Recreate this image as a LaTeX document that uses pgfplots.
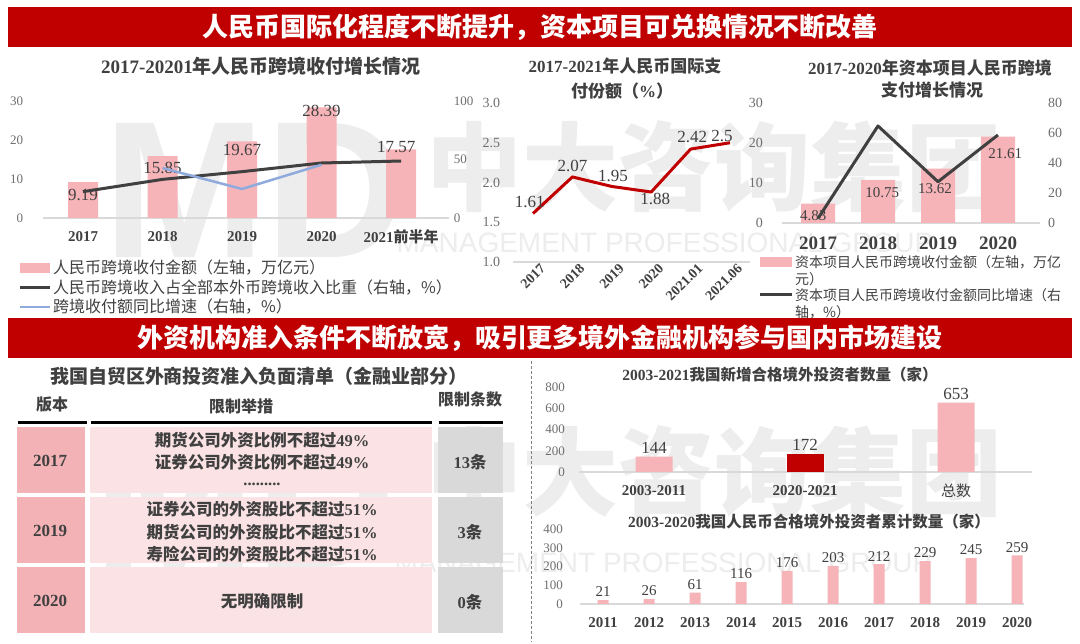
\documentclass[border=0pt]{standalone}
\usepackage{pgfplots}
\pgfplotsset{compat=1.18}
\usepackage{fontspec}
\setmainfont{Liberation Serif}
\newfontfamily\cjk{Noto Sans CJK SC}
\newfontfamily\sans{Liberation Sans}
\newcommand\fs[1]{\fontsize{#1}{#1}\selectfont}
\definecolor{banner}{RGB}{192,0,0}
\definecolor{pinkbar}{RGB}{246,180,184}
\definecolor{darkbar}{RGB}{192,0,0}
\definecolor{linegray}{RGB}{64,64,64}
\definecolor{lineblue}{RGB}{143,170,220}
\definecolor{linered}{RGB}{192,0,0}
\definecolor{txt}{RGB}{64,64,64}
\definecolor{tickc}{RGB}{110,110,110}
\definecolor{axgray}{RGB}{217,217,217}
\definecolor{wm}{RGB}{237,237,237}
\definecolor{tabA}{RGB}{243,178,181}
\definecolor{tabB}{RGB}{251,227,229}
\definecolor{tabC}{RGB}{217,217,217}

\pgfplotsset{
  panel/.style={
    scale only axis, anchor=south west, clip=false,
    axis x line*=bottom, axis y line*=left,
    y axis line style={draw=none},
    x axis line style={draw=axgray, line width=1.2pt},
    tick style={draw=none}, major tick length=0pt,
    /pgf/number format/assume math mode=true,
    ticklabel style={inner sep=0pt},
    yticklabel style={text=tickc},
    xticklabel style={text=txt},
  },
}

\begin{document}
\begin{tikzpicture}[x=1pt,y=1pt]
\path[use as bounding box] (0,0) rectangle (1080,644);
\fill[white] (0,0) rectangle (1080,644);

% ---------- watermark ----------
\node[font=\fs{195}\sans\bfseries, text=wm] at (255,644-190) {MD};
\node[font=\fs{96}\cjk\bfseries, text=wm] at (714,644-167) {中大咨询集团};
\node[font=\fs{28}\sans, text=wm] at (665,644-243) {MANAGEMENT PROFESSIONAL GROUP};
\node[font=\fs{195}\sans\bfseries, text=wm] at (245,644-500) {MD};
\node[font=\fs{96}\cjk\bfseries, text=wm] at (714,644-472) {中大咨询集团};
\node[font=\fs{28}\sans, text=wm] at (663,644-563) {MANAGEMENT PROFESSIONAL GROUP};

% ---------- banners ----------
\fill[banner] (8,644-7) rectangle (1072,644-47);
\node[font=\fs{26}\cjk\bfseries, text=white] at (540,644-27) {人民币国际化程度不断提升，资本项目可兑换情况不断改善};
\fill[banner] (8,644-318) rectangle (1072,644-358);
\node[font=\fs{26}\cjk\bfseries, text=white] at (540,644-338) {外资机构准入条件不断放宽，吸引更多境外金融机构参与国内市场建设};

% ---------- chart 1 ----------
\node[font=\fs{19}\bfseries, text=txt] at (261,644-66) {2017-20201{\cjk 年人民币跨境收付增长情况}};
\begin{axis}[panel, at={(43.25pt,426pt)}, width=405.5pt, height=117pt,
  xmin=-0.5, xmax=4.6, ymin=0, ymax=30, ytick={0,10,20,30},
  xtick={0,1,2,3,4}, xticklabels={2017,2018,2019,2020,{2021{\cjk 前半年}}},
  xticklabel style={font=\fs{15}\bfseries, anchor=center, yshift=-19pt},
  yticklabel style={font=\fs{13}, anchor=east, xshift=-20pt}]
\addplot[ybar, bar width=30pt, fill=pinkbar, draw=none] coordinates {(0,9.19)(1,15.85)(2,19.67)(3,28.39)(4,17.57)};
\node[font=\fs{17}, text=txt] at (axis cs:0,5.9) {9.19};
\node[font=\fs{17}, text=txt] at (axis cs:1,12.8) {15.85};
\node[font=\fs{17}, text=txt] at (axis cs:2,17.4) {19.67};
\node[font=\fs{17}, text=txt] at (axis cs:3,27.4) {28.39};
\node[font=\fs{17}, text=txt] at (axis cs:3.94,18.2) {17.57};
\end{axis}
\begin{axis}[panel, at={(43.25pt,426pt)}, width=405.5pt, height=117pt,
  xmin=-0.5, xmax=4.6, ymin=0, ymax=100, ytick={0,50,100},
  axis x line=none, axis y line*=right,
  yticklabel style={font=\fs{13}, anchor=west, xshift=5pt}]
\addplot[linegray, line width=3pt, line join=round, mark=none] coordinates {(0,22.5)(1,33)(2,39.6)(3,47)(4,48.7)};
\addplot[lineblue, line width=2.5pt, line join=round, mark=none] coordinates {(1,42.7)(2,24.8)(3,45.5)};
\end{axis}
\fill[pinkbar] (20,644-273) rectangle (50,644-263);
\node[anchor=west, font=\fs{16}\cjk, text=txt, inner sep=0pt] at (53,644-268) {人民币跨境收付金额（左轴，万亿元）};
\draw[linegray, line width=3pt] (20,644-288) -- (50,644-288);
\node[anchor=west, font=\fs{16}\cjk, text=txt, inner sep=0pt] at (53,644-288) {人民币跨境收入占全部本外币跨境收入比重（右轴，\%）};
\draw[lineblue, line width=2.5pt] (20,644-307) -- (50,644-307);
\node[anchor=west, font=\fs{16}\cjk, text=txt, inner sep=0pt] at (53,644-307) {跨境收付额同比增速（右轴，\%）};

% ---------- chart 2 ----------
\node[font=\fs{17}\bfseries, text=txt] at (625,644-66) {2017-2021{\cjk 年人民币国际支}};
\node[font=\fs{17}\bfseries, text=txt] at (622,644-91) {{\cjk 付份额（}\%{\cjk ）}};
\begin{axis}[panel, at={(513.3pt,382pt)}, width=236.4pt, height=159pt,
  xmin=-0.5, xmax=5.5, ymin=1, ymax=3, ytick={1,1.5,2,2.5,3},
  y tick label style={/pgf/number format/fixed, /pgf/number format/fixed zerofill, /pgf/number format/precision=1},
  xtick={0,1,2,3,4,5}, xticklabels={2017,2018,2019,2020,2021.01,2021.06},
  xticklabel style={font=\fs{14}\bfseries, rotate=45, anchor=east, xshift=4pt, yshift=-10pt},
  yticklabel style={font=\fs{14}, anchor=east, xshift=-13pt}]
\addplot[linered, line width=3pt, line join=round, mark=none] coordinates {(0,1.61)(1,2.07)(2,1.95)(3,1.88)(4,2.42)(5,2.5)};
\node[font=\fs{17}, text=txt] at (axis cs:-0.08,1.755) {1.61};
\node[font=\fs{17}, text=txt] at (axis cs:1.0,2.21) {2.07};
\node[font=\fs{17}, text=txt] at (axis cs:2.03,2.08) {1.95};
\node[font=\fs{17}, text=txt] at (axis cs:3.1,1.79) {1.88};
\node[font=\fs{17}, text=txt] at (axis cs:4.04,2.57) {2.42};
\node[font=\fs{17}, text=txt] at (axis cs:4.8,2.58) {2.5};
\end{axis}

% ---------- chart 3 ----------
\node[font=\fs{17}\bfseries, text=txt] at (930,644-68) {2017-2020{\cjk 年资本项目人民币跨境}};
\node[font=\fs{17}\bfseries, text=txt] at (932,644-90) {\cjk 支付增长情况};
\begin{axis}[panel, at={(782pt,421pt)}, width=258pt, height=120pt,
  xmin=-0.6, xmax=3.7, ymin=0, ymax=30, ytick={0,10,20,30},
  xtick={0,1,2,3}, xticklabels={2017,2018,2019,2020},
  xticklabel style={font=\fs{19}\bfseries, anchor=center, yshift=-20pt},
  yticklabel style={font=\fs{14}, anchor=east, xshift=-19pt}]
\addplot[ybar, bar width=34pt, fill=pinkbar, draw=none] coordinates {(0,4.83)(1,10.75)(2,13.62)(3,21.61)};
\node[font=\fs{15}, text=txt] at (axis cs:-0.08,1.75) {4.83};
\node[font=\fs{15}, text=txt] at (axis cs:1.07,7.5) {10.75};
\node[font=\fs{15}, text=txt] at (axis cs:1.95,8.5) {13.62};
\node[font=\fs{15}, text=txt] at (axis cs:3.12,17.25) {21.61};
\end{axis}
\begin{axis}[panel, at={(782pt,421pt)}, width=258pt, height=120pt,
  xmin=-0.6, xmax=3.7, ymin=0, ymax=80, ytick={0,20,40,60,80},
  axis x line=none, axis y line*=right,
  yticklabel style={font=\fs{14}, anchor=west, xshift=8pt}]
\addplot[linegray, line width=3pt, line join=round, mark=none] coordinates {(0,3)(1,64.7)(2,27.5)(3,58.7)};
\end{axis}
\fill[pinkbar] (760,644-267) rectangle (792,644-257);
\node[anchor=west, font=\fs{14}\cjk, text=txt, inner sep=0pt] at (795,644-262) {资本项目人民币跨境收付金额（左轴，万亿};
\node[anchor=west, font=\fs{14}\cjk, text=txt, inner sep=0pt] at (795,644-279) {元）};
\draw[linegray, line width=3pt] (760,644-295) -- (792,644-295);
\node[anchor=west, font=\fs{14}\cjk, text=txt, inner sep=0pt] at (795,644-295) {资本项目人民币跨境收付金额同比增速（右};
\node[anchor=west, font=\fs{14}\cjk, text=txt, inner sep=0pt] at (795,644-312) {轴，\%）};

% ---------- separator ----------
\draw[gray, line width=1pt, dash pattern=on 3pt off 2pt] (531,644-361) -- (531,644-642);

% ---------- table ----------
\node[font=\fs{19}\cjk\bfseries, text=txt] at (259,644-376) {我国自贸区外商投资准入负面清单（金融业部分）};
\node[font=\fs{16}\cjk\bfseries, text=txt] at (52,644-405) {版本};
\node[font=\fs{16}\cjk\bfseries, text=txt] at (241,644-406) {限制举措};
\node[font=\fs{16}\cjk\bfseries, text=txt] at (470,644-399) {限制条数};
\draw[black, line width=3pt] (18,644-423) -- (87,644-423);
\draw[black, line width=3pt] (91,644-423) -- (432,644-423);
\draw[black, line width=3pt] (439,644-423) -- (503,644-423);
\foreach \a/\b in {427/493, 497/563, 567/633}{
  \fill[tabA] (17,644-\a) rectangle (85,644-\b);
  \fill[tabB] (90,644-\a) rectangle (432,644-\b);
  \fill[tabC] (438,644-\a) rectangle (503,644-\b);
}
\begin{scope}[every node/.style={text=txt, font=\fs{16.5}\bfseries}]
\node[font=\fs{17}\bfseries] at (50,644-461) {2017};
\node[font=\fs{17}\bfseries] at (50,644-531) {2019};
\node[font=\fs{17}\bfseries] at (50,644-601) {2020};
\node at (262,644-440) {{\cjk 期货公司外资比例不超过}49\%};
\node at (262,644-462) {{\cjk 证券公司外资比例不超过}49\%};
\node at (262,644-484) {.........};
\node at (262,644-509) {{\cjk 证券公司的外资股比不超过}51\%};
\node at (262,644-532) {{\cjk 期货公司的外资股比不超过}51\%};
\node at (262,644-554) {{\cjk 寿险公司的外资股比不超过}51\%};
\node at (262,644-601) {\cjk 无明确限制};
\node at (470,644-462) {13{\cjk 条}};
\node at (470,644-532) {3{\cjk 条}};
\node at (470,644-602) {0{\cjk 条}};
\end{scope}

% ---------- chart 4 ----------
\node[font=\fs{15.5}\bfseries, text=txt] at (780,644-375) {2003-2021{\cjk 我国新增合格境外投资者数量（家）}};
\begin{axis}[panel, at={(578.5pt,172pt)}, width=453pt, height=85pt,
  xmin=-0.5, xmax=2.5, ymin=0, ymax=800, ytick={0,200,400,600,800},
  xtick={0,1,2}, xticklabels={2003-2011,2020-2021,{\cjk\mdseries 总数}},
  xticklabel style={font=\fs{15}\bfseries, anchor=center, yshift=-19pt},
  yticklabel style={font=\fs{13}, anchor=east, xshift=-13.5pt},
  nodes near coords, nodes near coords style={font=\fs{17}, text=txt, anchor=south, inner sep=0pt, yshift=3pt}]
\addplot[ybar, bar width=37pt, fill=pinkbar, draw=none] coordinates {(0,144)(2,653)};
\addplot[ybar, bar width=37pt, fill=darkbar, draw=none] coordinates {(1,172)};
\end{axis}

% ---------- chart 5 ----------
\node[font=\fs{15.5}\bfseries, text=txt] at (809,644-522) {2003-2020{\cjk 我国人民币合格境外投资者累计数量（家）}};
\begin{axis}[panel, at={(580pt,40pt)}, width=444pt, height=75pt,
  xmin=-0.5, xmax=9.15, ymin=0, ymax=400, ytick={0,100,200,300,400},
  xtick={0,1,2,3,4,5,6,7,8,9}, xticklabels={2011,2012,2013,2014,2015,2016,2017,2018,2019,2020},
  xticklabel style={font=\fs{15}\bfseries, anchor=center, yshift=-19pt},
  yticklabel style={font=\fs{13}, anchor=east, xshift=-17pt},
  nodes near coords, nodes near coords style={font=\fs{15}, text=txt, anchor=south, inner sep=0pt, yshift=3pt}]
\addplot[ybar, bar width=11pt, fill=pinkbar, draw=none] coordinates {(0,21)(1,26)(2,61)(3,116)(4,176)(5,203)(6,212)(7,229)(8,245)(9,259)};
\end{axis}
\end{tikzpicture}
\end{document}
